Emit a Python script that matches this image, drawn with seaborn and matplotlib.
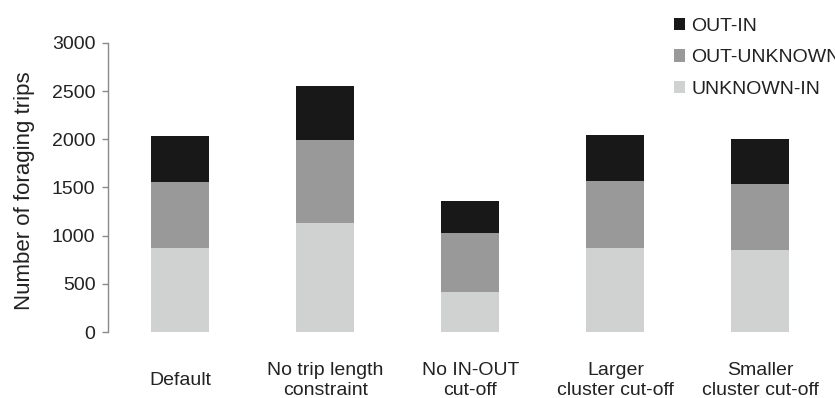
import pandas as pd
import seaborn as sns
import matplotlib.pyplot as plt
from matplotlib.patches import Patch

# values
scenarios = ["Default", "No trip length\nconstraint", "No IN-OUT\ncut-off",
             "Larger\ncluster cut-off", "Smaller\ncluster cut-off"]
unknown_in = [869, 1135, 418, 875, 851]
out_unknown = [692, 858, 610, 693, 685]
out_in = [477, 561, 335, 481, 471]

colors = {"OUT-IN": "#181818", "OUT-UNKNOWN": "#999999", "UNKNOWN-IN": "#d0d1d1"}

df = pd.DataFrame({"scenario": scenarios, "UNKNOWN-IN": unknown_in,
                   "OUT-UNKNOWN": out_unknown, "OUT-IN": out_in})
# cumulative heights so bars can be overlaid (tallest first)
df["top_outunk"] = df["UNKNOWN-IN"] + df["OUT-UNKNOWN"]
df["top_outin"] = df["top_outunk"] + df["OUT-IN"]

sns.set_style("white")
plt.rcParams["font.family"] = ["Liberation Sans", "DejaVu Sans"]
plt.rcParams["font.size"] = 14

fig = plt.figure(figsize=(8.35, 3.98), dpi=100)
ax = fig.add_axes([0.1293, 0.1658, 0.9976 - 0.1293, 0.892 - 0.1658])

sns.barplot(data=df, x="scenario", y="top_outin", color=colors["OUT-IN"],
            width=0.4, saturation=1, ax=ax, linewidth=0)
sns.barplot(data=df, x="scenario", y="top_outunk", color=colors["OUT-UNKNOWN"],
            width=0.4, saturation=1, ax=ax, linewidth=0)
sns.barplot(data=df, x="scenario", y="UNKNOWN-IN", color=colors["UNKNOWN-IN"],
            width=0.4, saturation=1, ax=ax, linewidth=0)

ax.set_xlim(-0.5, 4.5)
ax.set_ylim(0, 3000)
ax.set_yticks(range(0, 3001, 500))
ax.set_xlabel("")
ax.set_ylabel("Number of foraging trips", fontsize=16, color="#222222")
ax.yaxis.set_label_coords(-0.1005, 0.49)

sns.despine(ax=ax, bottom=True, right=True, top=True)
ax.spines["left"].set_color("#8a8a8a")
ax.spines["left"].set_linewidth(1)
ax.tick_params(axis="y", left=True, length=4, width=1, color="#8a8a8a",
               pad=5, labelsize=14, labelcolor="#222222")
ax.tick_params(axis="x", bottom=False, length=0, pad=35, labelsize=14,
               labelcolor="#222222")
for lab in ax.get_xticklabels():
    lab.set_verticalalignment("center")
    lab.set_multialignment("center")

handles = [Patch(facecolor=colors[k], edgecolor="none", label=k)
           for k in ["OUT-IN", "OUT-UNKNOWN", "UNKNOWN-IN"]]
fig.legend(handles=handles, loc="upper left", bbox_to_anchor=(0.793, 0.985),
           frameon=False, fontsize=14, handlelength=0.6, handleheight=0.6,
           handletextpad=0.3, labelspacing=0.75, borderaxespad=0.2,
           labelcolor="#222222")

fig.savefig("out.png", dpi=100)
